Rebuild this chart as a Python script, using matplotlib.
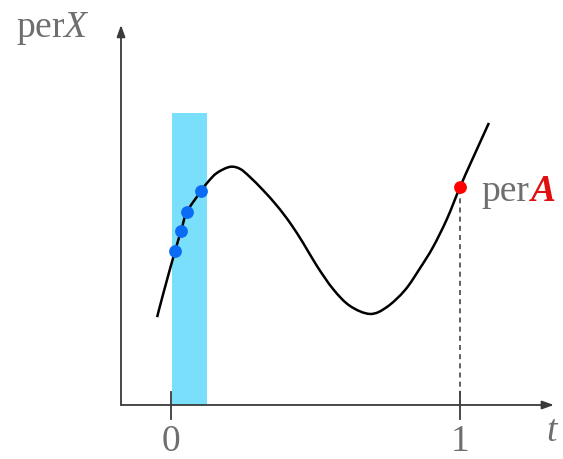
import matplotlib
matplotlib.use("Agg")
import matplotlib.pyplot as plt
from matplotlib.path import Path
from matplotlib.patches import PathPatch

# curve (t, perX)
t_curve = [-0.048, -0.028, 0.014, 0.035, 0.055, 0.104, 0.128, 0.159, 0.204,
           0.239, 0.273, 0.318, 0.367, 0.412, 0.457, 0.505, 0.561, 0.619, 0.689,
           0.747, 0.810, 0.862, 0.907, 0.955, 1.000, 1.045, 1.100]
per_curve = [0.304, 0.381, 0.533, 0.602, 0.668, 0.740, 0.772, 0.803, 0.824,
             0.817, 0.789, 0.744, 0.689, 0.630, 0.561, 0.481, 0.401, 0.343, 0.315,
             0.339, 0.398, 0.474, 0.547, 0.644, 0.754, 0.855, 0.976]

t_blue = [0.014, 0.035, 0.055, 0.104]
per_blue = [0.533, 0.602, 0.668, 0.740]
t_red, per_red = 1.0, 0.754

band = (0.003, 0.125)
band_top = 1.010
tick_pos = [0, 1]
tick_labels = ["0", "1"]

grey = "#6e6e6e"
axcol = "#3a3a3a"
serif = "Liberation Serif"
fs = 27
plt.rcParams["mathtext.fontset"] = "custom"
plt.rcParams["mathtext.it"] = serif + ":italic"
plt.rcParams["mathtext.rm"] = serif

fig = plt.figure(figsize=(5.63, 4.59), dpi=100)
ax = fig.add_axes([0, 0, 1, 1])
ax.set_xlim(-0.5917, 1.3564)
ax.set_ylim(-0.1869, 1.4014)
ax.axis("off")

# shaded band
ax.fill_between(band, 0, band_top, color="#7adffb", lw=0, zorder=1)

# axes with arrows
x0 = -0.173
arr = dict(arrowstyle="-|>,head_length=0.7,head_width=0.25", color=axcol, lw=1.3, shrinkA=0, shrinkB=0)
ax.annotate("", xy=(x0, 1.315), xytext=(x0, 0), zorder=2, arrowprops=arr)
ax.annotate("", xy=(1.325, 0), xytext=(x0, 0), zorder=2, arrowprops=arr)
for tp, tl in zip(tick_pos, tick_labels):
    ax.plot([tp, tp], [-0.048, 0.045], color=axcol, lw=1.3, zorder=2)
    ax.text(tp, -0.127, tl, fontsize=fs, family=serif, color=grey, ha="center", va="center")

# smooth curve through the read points (catmull-rom as bezier segments)
pts = list(zip(t_curve, per_curve))
verts = [pts[0]]
codes = [Path.MOVETO]
n = len(pts)
for i in range(n - 1):
    p0 = pts[max(i - 1, 0)]
    p1 = pts[i]
    p2 = pts[i + 1]
    p3 = pts[min(i + 2, n - 1)]
    c1 = (p1[0] + (p2[0] - p0[0]) / 6, p1[1] + (p2[1] - p0[1]) / 6)
    c2 = (p2[0] - (p3[0] - p1[0]) / 6, p2[1] - (p3[1] - p1[1]) / 6)
    verts += [c1, c2, p2]
    codes += [Path.CURVE4] * 3
ax.add_patch(PathPatch(Path(verts, codes), fill=False, color="black", lw=1.8, zorder=3))

ax.plot([t_red, t_red], [0, per_red], color="#444444", lw=1.2, ls=(0, (3, 2.5)), zorder=2)
ax.scatter(t_blue, per_blue, s=85, color="#0a6cf5", zorder=4, lw=0)
ax.scatter([t_red], [per_red], s=85, color="#ff0000", zorder=4, lw=0)

# labels
ax.text(-0.535, 1.304, r"per$X$", fontsize=fs, family=serif, color=grey, ha="left", va="center")
ax.text(1.322, -0.093, r"$t$", fontsize=fs, family=serif, color=grey, ha="center", va="center")
p = ax.text(1.075, 0.705, "per", fontsize=fs, family=serif, color=grey, ha="left", va="baseline")
ax.annotate("A", xy=(1, 0), xycoords=p, xytext=(1, 0), textcoords="offset points",
            fontsize=fs, family=serif, color="#e01010", style="italic", weight="bold", va="bottom")

fig.savefig("out.png", dpi=100)
